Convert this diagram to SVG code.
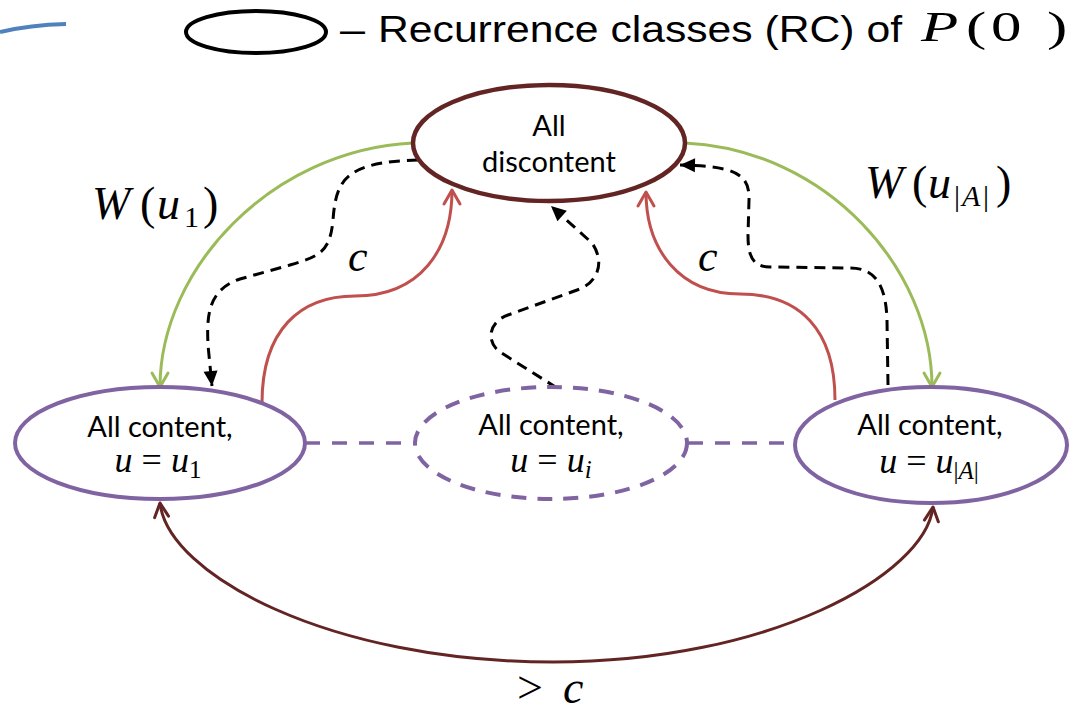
<svg xmlns="http://www.w3.org/2000/svg" width="1091" height="712" viewBox="0 0 1091 712">
  <style>
    .lbl { font-family: Lato, "Open Sans", sans-serif; font-size: 29px; fill: #000; text-anchor: middle; }
    .math { font-family: "Liberation Serif", "DejaVu Serif", serif; fill: #000; }
    .it { font-style: italic; }
    .conn { fill: none; }
    .dash { stroke: #000; stroke-width: 3; stroke-dasharray: 11 7; fill: none; }
  </style>
  <defs>
    <marker id="arrG" markerUnits="userSpaceOnUse" markerWidth="24" markerHeight="24" viewBox="-18 -12 24 24" refX="0" refY="0" orient="auto">
      <path d="M-14,-8 L0,0 L-14,8" fill="none" stroke="#9BBB59" stroke-width="3" stroke-linecap="round" stroke-linejoin="round"/>
    </marker>
    <marker id="arrR" markerUnits="userSpaceOnUse" markerWidth="24" markerHeight="24" viewBox="-18 -12 24 24" refX="0" refY="0" orient="auto">
      <path d="M-14,-8 L0,0 L-14,8" fill="none" stroke="#C0504D" stroke-width="3" stroke-linecap="round" stroke-linejoin="round"/>
    </marker>
    <marker id="arrM" markerUnits="userSpaceOnUse" markerWidth="24" markerHeight="24" viewBox="-18 -12 24 24" refX="0" refY="0" orient="auto-start-reverse">
      <path d="M-14,-7 L0,0 L-14,7" fill="none" stroke="#632523" stroke-width="3" stroke-linecap="round" stroke-linejoin="round"/>
    </marker>
    <marker id="arrK" markerUnits="userSpaceOnUse" markerWidth="24" markerHeight="24" viewBox="-18 -12 24 24" refX="0" refY="0" orient="auto">
      <path d="M-15,-7 L0,0 L-15,7 Z" fill="#000"/>
    </marker>
  </defs>

  <rect width="1091" height="712" fill="#fff"/>

  <!-- stray stroke at the top-left edge -->
  <path d="M0,32 Q30,25 66,24" fill="none" stroke="#4F81BD" stroke-width="4"/>

  <!-- legend -->
  <g id="legend">
    <ellipse cx="256" cy="32" rx="70" ry="21" fill="none" stroke="#000" stroke-width="4"/>
    <text x="340" y="42" font-family="'Liberation Sans', Arial, sans-serif" font-size="36" textLength="25" lengthAdjust="spacingAndGlyphs">–</text>
    <text x="378" y="42" font-family="'Liberation Sans', Arial, sans-serif" font-size="36" textLength="524" lengthAdjust="spacingAndGlyphs">Recurrence classes (RC) of</text>
    <!-- P(0), widened to the legend's proportions -->
    <g transform="translate(0,41) scale(1.45,1)">
      <text class="math" font-size="42" y="0"><tspan class="it" x="635.2">P</tspan><tspan x="666.2">(</tspan><tspan x="683.4">0</tspan><tspan x="722.1">)</tspan></text>
    </g>
  </g>

  <!-- connectors -->
  <g id="connectors">
    <!-- node-to-node links (dashed purple) -->
    <path d="M305,443 L415,443" stroke="#8064A2" stroke-width="3.5" stroke-dasharray="15 12" fill="none"/>
    <path d="M688,443 L795,443" stroke="#8064A2" stroke-width="3.5" stroke-dasharray="15 12" fill="none"/>

    <!-- W(u1): discontent -> u1 -->
    <path class="conn" d="M413,143 C270,150 160,270 160,387" stroke="#9BBB59" stroke-width="3" marker-end="url(#arrG)"/>
    <!-- W(u|A|): discontent -> u|A| -->
    <path class="conn" d="M685,143 C828,150 932,270 932,387" stroke="#9BBB59" stroke-width="3" marker-end="url(#arrG)"/>

    <!-- c: u1 -> discontent -->
    <path class="conn" d="M262,403 C262,330 300,296 355,296 C420,296 452,250 452,190" stroke="#C0504D" stroke-width="3" marker-end="url(#arrR)"/>
    <!-- c: u|A| -> discontent -->
    <path class="conn" d="M835,400 C835,330 800,294 740,294 C680,294 646,250 646,192" stroke="#C0504D" stroke-width="3" marker-end="url(#arrR)"/>

    <!-- > c: between u1 and u|A| -->
    <path class="conn" d="M160,503 C168,575 330,662 553,662 C770,662 925,575 933,507" stroke="#632523" stroke-width="3" marker-start="url(#arrM)" marker-end="url(#arrM)"/>

    <!-- black dashed paths -->
    <path class="dash" d="M418,160 C345,162 336,180 333,220 C330,252 320,256 290,265 L240,279 C206,290 207,320 208,345 L212,386" marker-end="url(#arrK)"/>
    <path class="dash" d="M888,385 L887,320 C886,285 875,268 850,268 L770,267 C752,267 748,255 748,235 L749,200 C750,174 735,166 680,165" marker-end="url(#arrK)"/>
    <path class="dash" d="M557,388 L500,352 C486,342 488,322 508,315 L580,289 C600,280 604,260 592,243 L551,206" marker-end="url(#arrK)"/>
  </g>

  <!-- edge labels -->
  <g id="edge-labels" class="math">
    <text y="219" font-size="46"><tspan class="it" x="92">W</tspan><tspan x="140">(</tspan><tspan class="it" x="157">u</tspan><tspan font-size="30" x="184" dy="8">1</tspan><tspan x="203" dy="-8">)</tspan></text>
    <text y="198" font-size="46"><tspan class="it" x="865">W</tspan><tspan x="912">(</tspan><tspan class="it" x="928">u</tspan><tspan font-size="30" x="954" dy="8">|</tspan><tspan class="it" font-size="30" x="962">A</tspan><tspan font-size="30" x="983">|</tspan><tspan x="996" dy="-8">)</tspan></text>
    <text x="348" y="271" font-size="44" class="it">c</text>
    <text x="698" y="271" font-size="44" class="it">c</text>
    <text y="703" font-size="46"><tspan x="517">&gt;</tspan><tspan class="it" x="563">c</tspan></text>
  </g>

  <!-- nodes -->
  <g id="node-discontent">
    <ellipse cx="549" cy="143" rx="136" ry="58" fill="#fff" stroke="#632523" stroke-width="4.5"/>
    <text class="lbl" x="549" y="136">All</text>
    <text class="lbl" x="549" y="172">discontent</text>
  </g>

  <g id="node-u1">
    <ellipse cx="160" cy="443" rx="145" ry="56" fill="#fff" stroke="#8064A2" stroke-width="4"/>
    <text class="lbl" x="160" y="437">All content,</text>
    <text class="math" x="158" y="472" font-size="36" text-anchor="middle"><tspan class="it">u</tspan> = <tspan class="it">u</tspan><tspan font-size="25" dy="6">1</tspan></text>
  </g>

  <g id="node-ui">
    <ellipse cx="551" cy="443" rx="136" ry="56" fill="#fff" stroke="#8064A2" stroke-width="4" stroke-dasharray="15 11"/>
    <text class="lbl" x="551" y="435">All content,</text>
    <text class="math" x="551" y="472" font-size="36" text-anchor="middle"><tspan class="it">u</tspan> = <tspan class="it">u</tspan><tspan class="it" font-size="25" dy="6">i</tspan></text>
  </g>

  <g id="node-uA">
    <ellipse cx="931" cy="445" rx="136" ry="58" fill="#fff" stroke="#8064A2" stroke-width="4"/>
    <text class="lbl" x="930" y="435">All content,</text>
    <text class="math" x="929" y="473" font-size="36" text-anchor="middle"><tspan class="it">u</tspan> = <tspan class="it">u</tspan><tspan font-size="25" dy="6">|<tspan class="it">A</tspan>|</tspan></text>
  </g>
</svg>
